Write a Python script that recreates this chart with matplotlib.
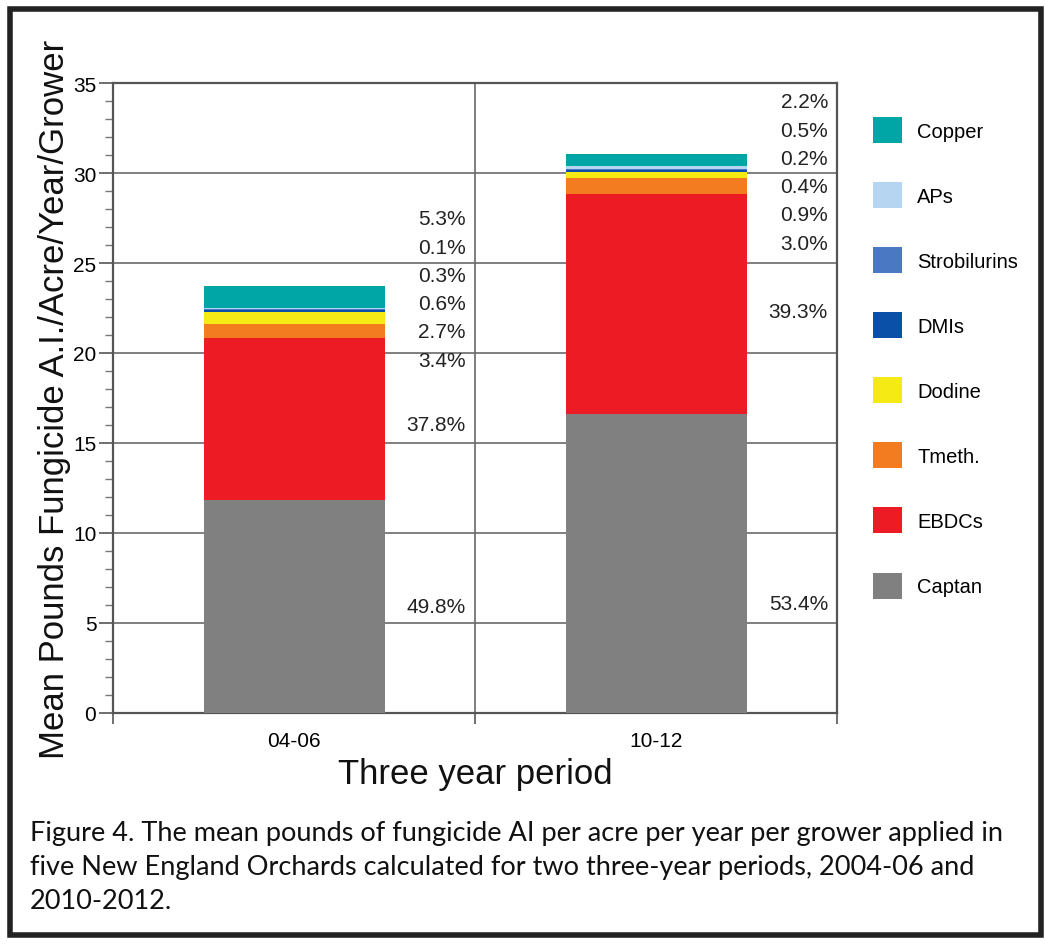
import matplotlib
matplotlib.use('Agg')
import matplotlib.pyplot as plt
from matplotlib.patches import Patch, Rectangle

plt.rcParams['font.family'] = ['Liberation Sans', 'DejaVu Sans']

# data (lbs AI / acre / year / grower), stacked bottom -> top
periods = ['04-06', '10-12']
classes = ['Captan', 'EBDCs', 'Tmeth.', 'Dodine', 'DMIs', 'Strobilurins', 'APs', 'Copper']
captan = [11.83, 16.60]
ebdcs = [8.98, 12.22]
tmeth = [0.81, 0.93]
dodine = [0.64, 0.28]
dmis = [0.14, 0.12]
strobilurins = [0.07, 0.06]
aps = [0.02, 0.16]
copper = [1.26, 0.68]

# percentage labels, listed bottom -> top for each period
pct_0406 = ['49.8%', '37.8%', '3.4%', '2.7%', '0.6%', '0.3%', '0.1%', '5.3%']
pct_1012 = ['53.4%', '39.3%', '3.0%', '0.9%', '0.4%', '0.2%', '0.5%', '2.2%']

colors = ['#808080', '#ED1C24', '#F37B20', '#F5EA14', '#0A50A8',
          '#4A78C2', '#B5D5F0', '#00A5A5']

series = [captan, ebdcs, tmeth, dodine, dmis, strobilurins, aps, copper]
xpos = [0.5, 1.5]

fig = plt.figure(figsize=(10.45, 9.45), dpi=100)
W, H = 1045, 945
ax = fig.add_axes([113 / W, 1 - 714 / H, 724 / W, 630 / H])

bottom = [0.0, 0.0]
for vals, col in zip(series, colors):
    ax.bar(xpos, vals, width=0.5, bottom=bottom, color=col, edgecolor='none', zorder=3)
    bottom = [b + v for b, v in zip(bottom, vals)]

ax.set_xlim(0, 2)
ax.set_ylim(0, 35)
ax.set_xticks([0, 1, 2])
ax.set_xticklabels([])
ax.set_xticks(xpos, minor=True)
ax.set_xticklabels(periods, minor=True, fontsize=15)
ax.tick_params(axis='x', which='minor', length=0, pad=13)
ax.tick_params(axis='x', which='major', length=8, width=1.2, color='#555555')
ax.set_yticks(range(0, 36, 5))
ax.set_yticks(range(0, 36), minor=True)
ax.tick_params(axis='y', which='major', length=10, width=1.2, color='#555555', labelsize=15, pad=2)
ax.tick_params(axis='y', which='minor', length=6, width=1.0, color='#777777')
ax.grid(True, which='major', color='#6a6a6a', linewidth=1.2)
ax.set_axisbelow(True)
for s in ax.spines.values():
    s.set_color('#555555')
    s.set_linewidth(1.6)

# percentage annotations (layout positions in data units)
small_top = [27.45, 33.95]
step = 1.57
big_y = [[5.9, 16.05], [6.1, 22.3]]
for i, pcts in enumerate([pct_0406, pct_1012]):
    tx = xpos[i] + 0.475
    ax.text(tx, big_y[i][0], pcts[0], ha='right', va='center', fontsize=15, color='#222222')
    ax.text(tx, big_y[i][1], pcts[1], ha='right', va='center', fontsize=15, color='#222222')
    for k, lab in enumerate(reversed(pcts[2:])):
        ax.text(tx, small_top[i] - k * step, lab, ha='right', va='center',
                fontsize=15, color='#222222')

fig.text(55 / W, 1 - 399 / H, 'Mean Pounds Fungicide A.I./Acre/Year/Grower',
         rotation=90, ha='center', va='center', fontsize=25, color='#111111')
fig.text(475 / W, 1 - 775 / H, 'Three year period', ha='center', va='center',
         fontsize=25, color='#111111')

handles = [Patch(facecolor=c, edgecolor='none') for c in reversed(colors)]
fig.legend(handles, list(reversed(classes)), loc='upper left',
           bbox_to_anchor=(873 / W, 1 - 118 / H), frameon=False, fontsize=14.5,
           handlelength=1.44, handleheight=1.61, labelspacing=1.94,
           handletextpad=0.75, borderpad=0, borderaxespad=0)

caption = ('Figure 4. The mean pounds of fungicide AI per acre per year per grower applied in\n'
           'five New England Orchards calculated for two three-year periods, 2004-06 and\n'
           '2010-2012.')
fig.text(30 / W, 1 - 821 / H, caption, ha='left', va='top', fontsize=19.5,
         family=['Lato', 'DejaVu Sans'], linespacing=1.46, color='#111111')

fig.patches.append(Rectangle((9.5 / W, 1 - 936 / H), 1031 / W, 926 / H,
                             transform=fig.transFigure, fill=False,
                             edgecolor='#222222', linewidth=4))

fig.savefig('out.png', dpi=100)
